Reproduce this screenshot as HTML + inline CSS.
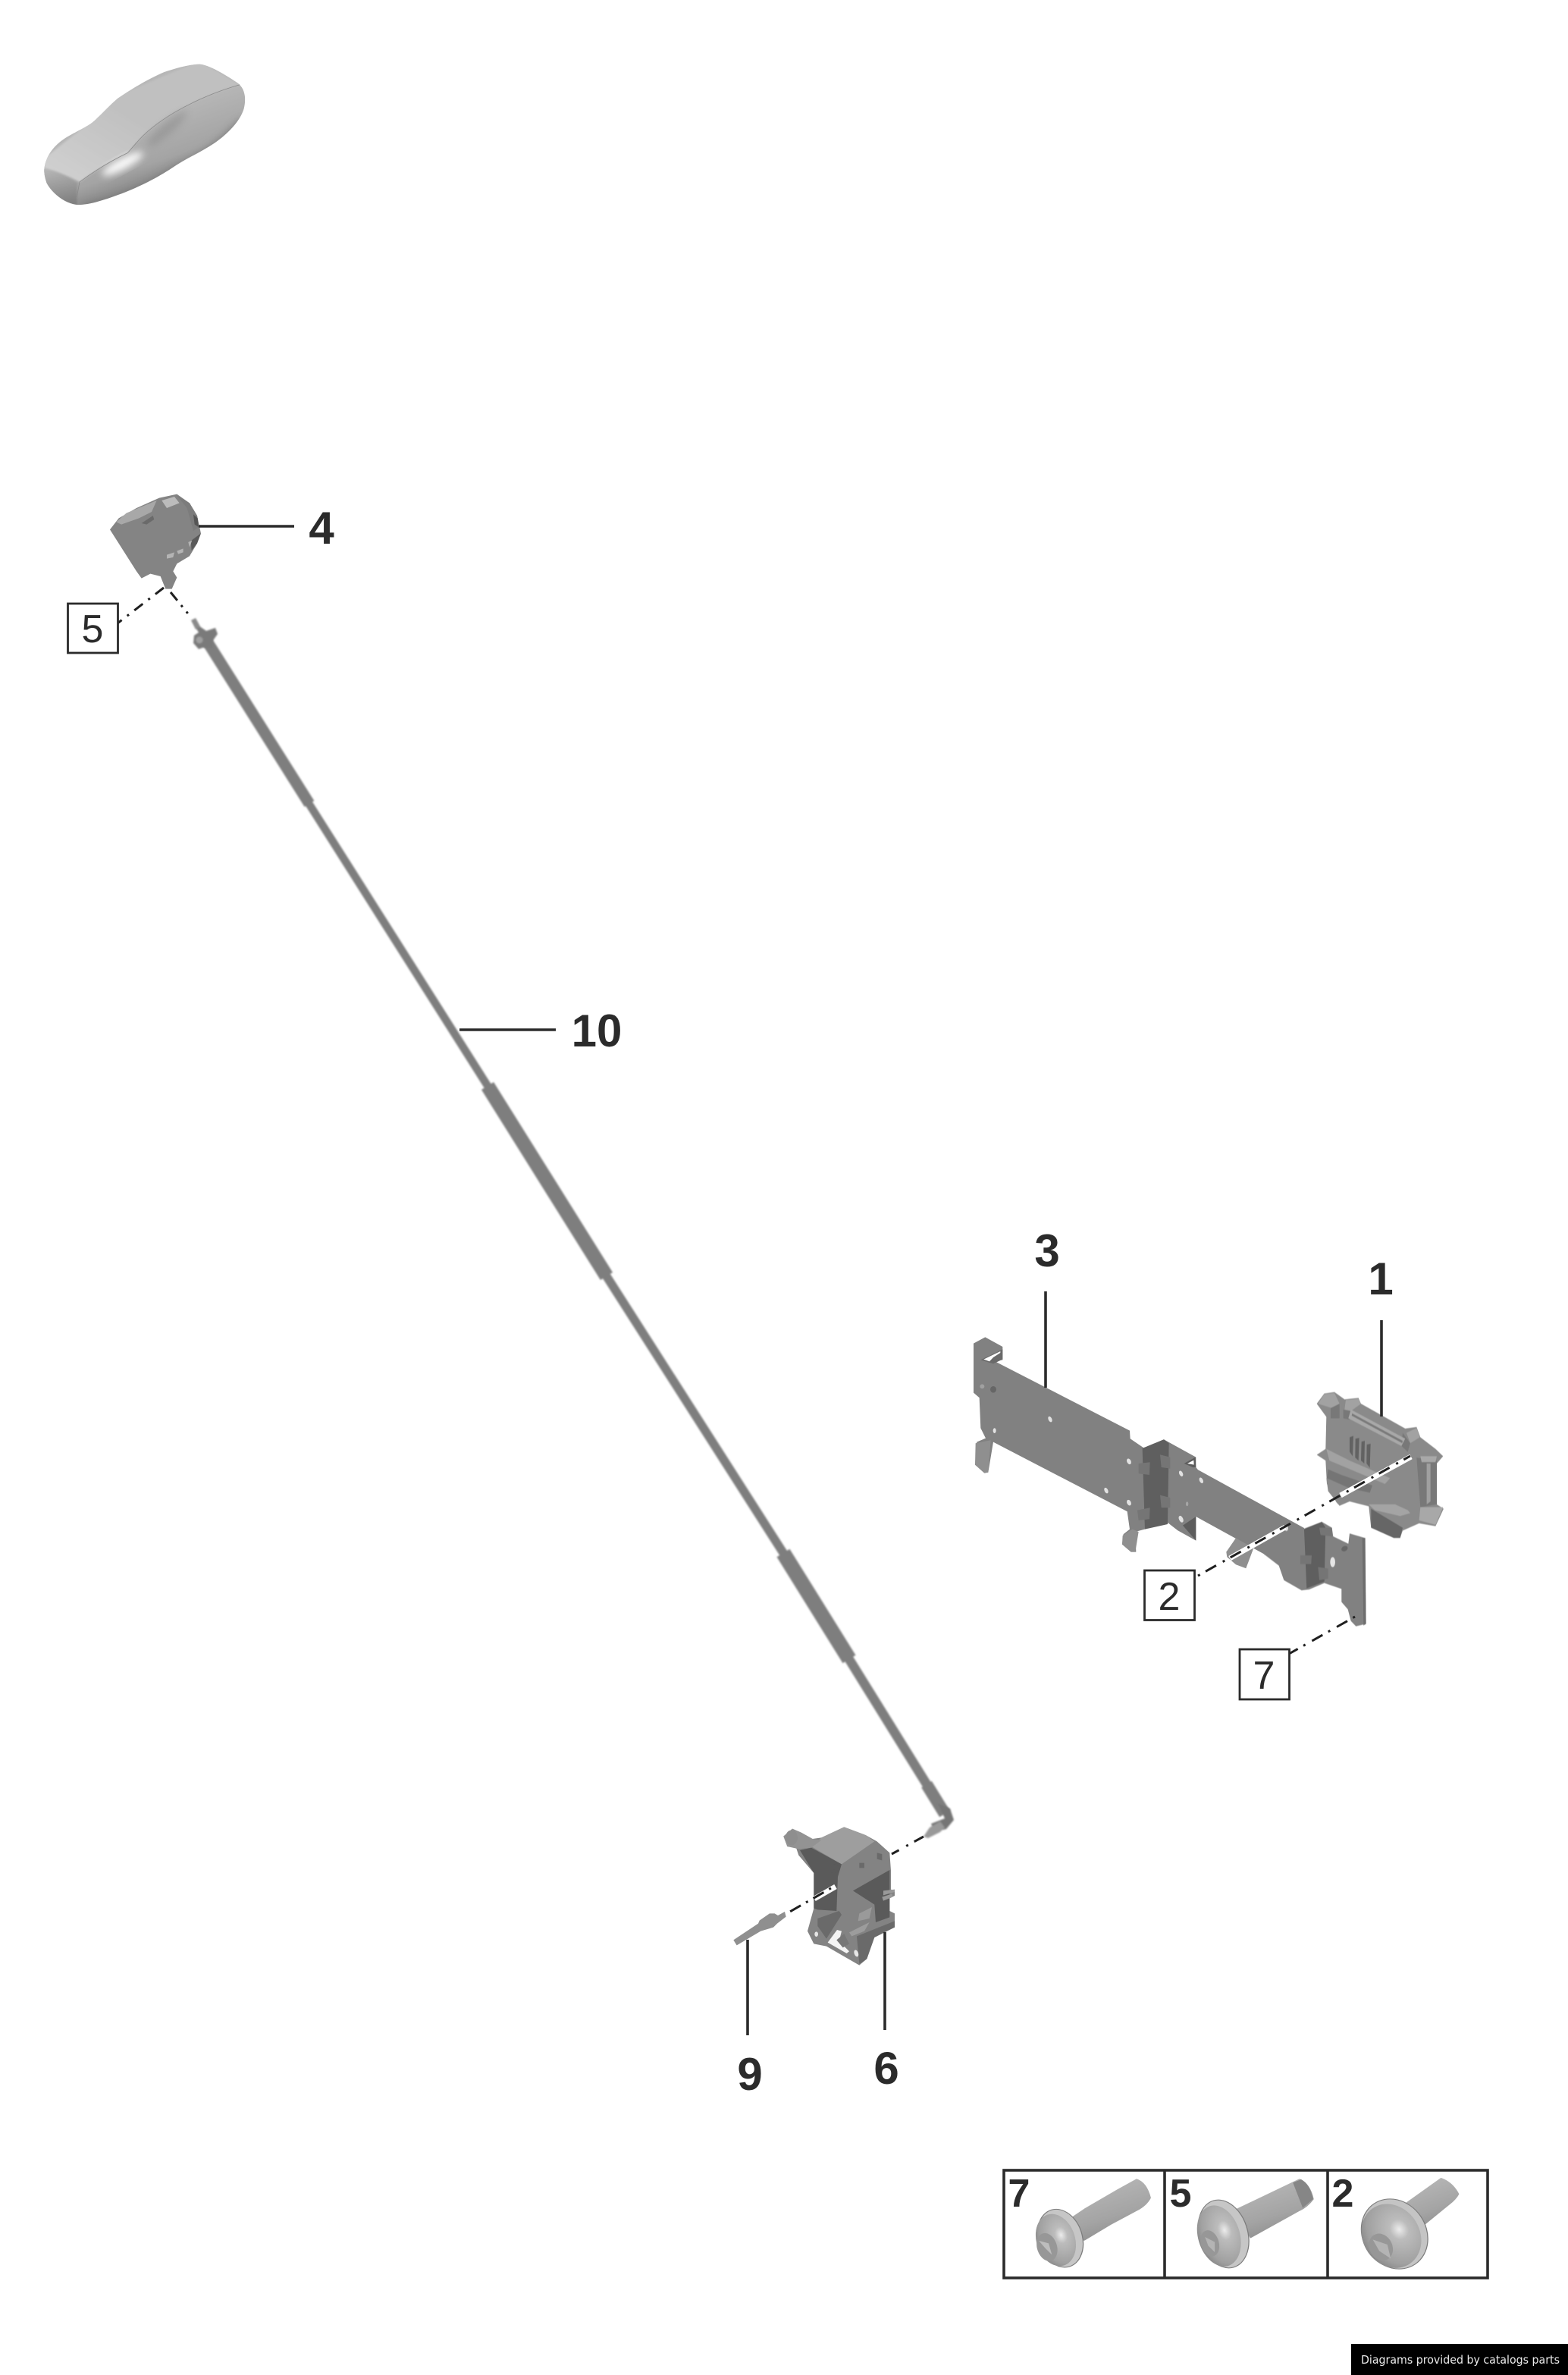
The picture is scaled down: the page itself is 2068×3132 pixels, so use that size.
<!DOCTYPE html>
<html><head><meta charset="utf-8"><title>Diagram</title>
<style>html,body{margin:0;padding:0;background:#fff}svg{display:block}
text{font-family:"Liberation Sans",sans-serif;fill:#2b2b2b}
.n{font-weight:bold;font-size:60px;text-anchor:middle}
.b{font-size:52px;text-anchor:middle}
.s{font-weight:bold;font-size:52px;text-anchor:middle}
.l{stroke:#2b2b2b;stroke-width:3.6;fill:none}
.d{stroke:#1f1f1f;stroke-width:3;fill:none;stroke-dasharray:3 8.5 16 10}
.h{stroke:#fff;stroke-width:7;fill:none}
.box{fill:#fff;stroke:#2b2b2b;stroke-width:2.8}
</style></head><body>
<svg width="2068" height="3132" viewBox="0 0 2068 3132" xmlns="http://www.w3.org/2000/svg">
<defs>
<filter id="bl" x="-10%" y="-10%" width="120%" height="120%"><feGaussianBlur stdDeviation="1.1"/></filter>
<filter id="bs" x="-20%" y="-20%" width="140%" height="140%"><feGaussianBlur stdDeviation="4"/></filter>
<filter id="bl3" x="-40%" y="-40%" width="180%" height="180%"><feGaussianBlur stdDeviation="14"/></filter>
<clipPath id="carc"><path d="M85,490 C90,440 120,400 160,372 C200,345 250,325 275,305 C305,280 340,240 375,210 C420,180 480,140 560,105 C610,88 660,75 700,74 C740,78 800,115 850,148 C880,170 885,210 875,250 C860,300 810,350 760,385 C700,425 640,450 590,485 C530,525 450,565 380,590 C320,612 260,632 215,630 C170,625 120,590 95,545 C88,525 84,505 85,490 Z"/></clipPath>
<linearGradient id="cs" x1="0.42" y1="0.42" x2="0.64" y2="0.88"><stop offset="0" stop-color="#b6b6b6"/><stop offset="0.55" stop-color="#a4a4a4"/><stop offset="1" stop-color="#707070"/></linearGradient>
<linearGradient id="ct" x1="0" y1="1" x2="1" y2="0"><stop offset="0" stop-color="#d2d2d2"/><stop offset="0.5" stop-color="#c0c0c0"/><stop offset="1" stop-color="#c0c0c0"/></linearGradient>
<linearGradient id="cf" x1="0" y1="0" x2="0.2" y2="1"><stop offset="0" stop-color="#bcbcbc"/><stop offset="1" stop-color="#808080"/></linearGradient>
<linearGradient id="sh" x1="0.3" y1="0" x2="0.7" y2="1"><stop offset="0" stop-color="#b8b8b8"/><stop offset="0.6" stop-color="#a4a4a4"/><stop offset="1" stop-color="#8a8a8a"/></linearGradient>
<radialGradient id="hd" cx="0.66" cy="0.42" r="0.72"><stop offset="0" stop-color="#ececec"/><stop offset="0.22" stop-color="#bcbcbc"/><stop offset="0.75" stop-color="#a0a0a0"/><stop offset="1" stop-color="#828282"/></radialGradient>
</defs>
<rect width="2068" height="3132" fill="#fff"/>

<!-- car -->
<g transform="translate(30,60) scale(.3333)">
<g clip-path="url(#carc)">
<rect x="60" y="50" width="850" height="610" fill="url(#cs)"/>
<path fill="url(#cf)" filter="url(#bs)" d="M70,480 Q150,500 216,545 L214,640 L80,640 Z"/>
<path fill="url(#ct)" filter="url(#bs)" d="M80,450 L270,300 L370,200 L700,60 L860,155 Q720,195 600,265 Q500,325 450,385 L415,425 Q320,470 225,540 Q150,500 85,485 Z"/>
<path fill="#8e8e8e" opacity=".6" filter="url(#bl3)" d="M490,385 Q550,300 650,255 Q640,320 510,400 Z"/>
<path fill="#767676" opacity=".8" filter="url(#bl3)" d="M230,630 Q420,600 600,480 Q740,420 860,290 L900,320 L700,520 L300,680 Z"/>
<ellipse cx="395" cy="468" rx="90" ry="22" transform="rotate(-28 395 468)" fill="#fafafa" filter="url(#bl3)"/>
<path fill="none" stroke="#8a8a8a" stroke-width="2.4" d="M860,155 Q720,195 600,265 Q500,325 450,385 L415,425 Q320,470 225,540 L214,600"/>
</g>
</g>

<!-- part 4 -->
<g transform="translate(70,620) scale(.3333)" filter="url(#bl)">
<path fill="#848484" d="M225,235 L260,190 L330,150 L420,110 L490,95 L540,130 L570,180 L585,250 L570,290 L540,340 L490,370 L475,400 L490,425 L470,470 L445,470 L425,420 L385,410 L350,428 L330,400 Z"/>
<path fill="#a8a8a8" d="M250,205 L290,170 L410,120 L390,165 L340,190 L270,215Z"/>
<path fill="#bcbcbc" d="M430,120 L480,105 L500,130 L450,150Z"/>
<path fill="#7c7c7c" d="M490,100 L540,130 L570,180 L578,225 L555,240 L530,150Z"/>
<path fill="#5a5a5a" d="M545,280 L585,250 L570,290 L548,318Z"/>
<path fill="#555" d="M555,175 L572,190 L575,225 L560,215Z"/>
<path fill="#6a6a6a" d="M350,210 L395,180 L400,195 L370,215Z"/>
<path fill="#b4b4b4" d="M450,335 L480,325 L475,345 L450,350Z M490,320 L515,310 L515,325 L495,332Z M535,285 L550,278 L540,305Z"/>
</g>
<line class="l" x1="262" y1="694" x2="388" y2="694"/>
<text class="n" x="424" y="717">4</text>
<path class="d" style="stroke-dasharray:14 9 3 9" d="M216,775 L155,822"/>
<path class="d" style="stroke-dasharray:14 8 3 8 3 99" d="M225,781 L251,813"/>
<rect class="box" x="89.5" y="796" width="66" height="65"/>
<text class="b" x="122" y="847">5</text>

<!-- rod 10 -->
<g filter="url(#bl)" fill="none" stroke="#7e7e7e">
<line x1="272" y1="844" x2="408" y2="1060" stroke-width="15"/>
<line x1="405" y1="1056" x2="645" y2="1435" stroke-width="10.5"/>
<line x1="643" y1="1432" x2="800" y2="1683" stroke-width="19"/>
<line x1="798" y1="1680" x2="1035" y2="2051" stroke-width="11.5"/>
<line x1="1033" y1="2048" x2="1120" y2="2188" stroke-width="20"/>
<line x1="1118" y1="2185" x2="1224" y2="2356" stroke-width="12.5"/>
<line x1="1222" y1="2353" x2="1246" y2="2392" stroke-width="16"/>
</g>
<g filter="url(#bl)">
<path fill="#7a7a7a" d="M253,820 L262,825 L272,832 L284,828 L287,836 L280,846 L280,855 L268,854 L262,856 L255,848 L256,838 L262,834Z"/>
<circle cx="263" cy="844" r="4.5" fill="#a0a0a0"/>
<path fill="#8a8a8a" d="M252,818 L258,815 L264,826 L258,830Z"/>
<path fill="#757575" d="M1237,2378 L1253,2385 L1258,2400 L1248,2412 L1232,2416 L1228,2405 L1246,2398Z"/>
<path fill="#999" d="M1218,2422 L1226,2410 L1240,2402 L1246,2410 L1240,2416 L1224,2424Z"/>
</g>
<line class="l" x1="606" y1="1358" x2="733" y2="1358"/>
<text class="n" x="787" y="1380">10</text>

<!-- bracket 3 -->
<g transform="translate(1260,1620) scale(.3333)" filter="url(#bl)">
<path fill="#818181" d="M72,455 L118,430 L187,468 L187,520 L155,525 L690,800 L692,832 L745,868 L825,835 L952,905 L952,945 L960,955 L1380,1185 L1380,1400 L1270,1315 L952,1140 L952,1235 L880,1195 L835,1160 L750,1190 L712,1200 L715,1280 L695,1280 L660,1250 L665,1210 L690,1190 L680,1120 L150,845 L130,965 L115,968 L78,935 L85,845 L120,830 L100,790 L95,670 L72,650 Z"/>
<path fill="#6a6a6a" d="M100,520 L187,478 L187,518 L150,535Z"/>
<path fill="#fff" d="M112,518 L178,486 L178,492 L150,510 L135,526Z"/>
<path fill="#8f8f8f" d="M80,850 L140,838 L130,965 L115,968 L78,935Z"/>
<path fill="#5e5e5e" d="M740,870 L825,835 L845,850 L840,1170 L750,1190Z"/>
<path fill="#747474" d="M725,930 L770,925 L768,975 L725,970Z M720,1115 L770,1105 L768,1150 L725,1155Z M810,895 L850,905 L850,950 L815,945Z M810,1055 L850,1065 L850,1105 L815,1105Z"/>
<path fill="#5c5c5c" d="M905,930 L950,905 L952,945 L940,945Z M900,1175 L952,1140 L952,1235Z"/>
<path fill="#fff" d="M918,930 L943,917 L944,935Z"/>
<path fill="#8f8f8f" d="M662,1215 L700,1190 L725,1200 L712,1280 L695,1280 L660,1250Z"/>
<path fill="#8f8f8f" d="M1072,1280 L1110,1225 L1180,1265 L1150,1345 L1110,1330 L1075,1300Z"/>
<g fill="#e2e2e2">
<ellipse cx="375" cy="755" rx="7" ry="12" transform="rotate(-25 375 755)"/>
<ellipse cx="155" cy="800" rx="6" ry="10"/>
<ellipse cx="687" cy="922" rx="8" ry="12" transform="rotate(-25 687 922)"/>
<ellipse cx="597" cy="1037" rx="7" ry="12" transform="rotate(-25 597 1037)"/>
<ellipse cx="687" cy="1085" rx="8" ry="12" transform="rotate(-25 687 1085)"/>
<ellipse cx="893" cy="970" rx="7" ry="12" transform="rotate(-25 893 970)"/>
<ellipse cx="973" cy="997" rx="7" ry="12" transform="rotate(-25 973 997)"/>
<ellipse cx="893" cy="1150" rx="8" ry="14" transform="rotate(-25 893 1150)"/>
<ellipse cx="917" cy="1090" rx="5" ry="9" fill="#a5a5a5"/>
</g>
<ellipse cx="150" cy="637" rx="12" ry="13" fill="#666"/>
<ellipse cx="106" cy="625" rx="9" ry="9" fill="#a0a0a0"/>
</g>
<g transform="translate(1480,1680) scale(.3333,.3846)" filter="url(#bl)">
<path fill="#818181" d="M600,840 L715,875 L790,850 L830,870 L835,900 L895,925 L900,890 L960,905 L965,1200 L925,1208 L905,1190 L893,1150 L868,1125 L868,1080 L800,1060 L740,1082 L710,1085 L640,1050 L620,1000 L560,960Z"/>
<path fill="#5e5e5e" d="M720,875 L790,850 L805,870 L800,1055 L730,1078Z"/>
<path fill="#747474" d="M705,965 L750,965 L748,995 L705,995Z M780,870 L830,870 L830,900 L785,895Z M775,1005 L815,1010 L815,1045 L780,1050Z"/>
<path fill="#6d6d6d" d="M950,905 L962,905 L965,1200 L955,1205Z"/>
<ellipse cx="833" cy="988" rx="10" ry="17" fill="#e6e6e6"/>
<ellipse cx="880" cy="942" rx="13" ry="9" fill="#666" transform="rotate(-20 880 942)"/>
<ellipse cx="650" cy="872" rx="7" ry="9" fill="#dedede"/>
</g>
<line class="l" x1="1379" y1="1703" x2="1379" y2="1830"/>
<text class="n" x="1381" y="1670">3</text>

<!-- part 1 -->
<g transform="translate(1480,1680) scale(.3333,.3846)" filter="url(#bl)">
<path fill="#8a8a8a" d="M770,445 L800,410 L840,405 L880,430 L935,425 L945,445 L1120,530 L1165,525 L1180,560 L1240,600 L1270,625 L1245,650 L1245,790 L1272,805 L1240,865 L1175,855 L1110,880 L1100,905 L1075,905 L985,870 L975,790 L900,760 L860,790 L810,720 L805,640 L770,620 L805,600 L808,490 Z"/>
<path fill="#8a8a8a" d="M808,700 L975,755 L990,800 L900,780 L860,795 L815,745Z"/>
<path fill="#a2a2a2" d="M775,445 L800,412 L840,408 L860,445 L830,460Z M885,432 L935,428 L945,445 L905,470 L880,465Z M1125,545 L1165,528 L1178,560 L1140,580Z"/>
<path fill="#787878" d="M825,460 L860,445 L860,495 L825,495Z M875,465 L905,470 L900,500 L875,495Z M1110,545 L1140,580 L1130,610 L1105,590Z"/>
<path fill="#a8a8a8" d="M905,465 L1120,565 L1105,590 L895,495Z"/>
<path fill="#7a7a7a" d="M910,478 L1110,572 L1108,580 L908,486Z"/>
<g fill="#626262"><path d="M900,560 L915,555 L912,625 L900,610Z M923,565 L938,562 L935,640 L922,630Z M947,575 L960,572 L958,650 L945,640Z M968,585 L983,582 L980,665 L967,650Z"/></g>
<path fill="#a2a2a2" d="M808,600 L900,640 L1060,700 L1040,720 L820,640Z"/>
<path fill="#757575" d="M815,670 L870,690 L990,725 L980,750 L900,735 L810,700Z"/>
<path fill="#787878" d="M1165,630 L1245,640 L1245,790 L1180,800Z"/>
<path fill="#a8a8a8" d="M1180,625 L1245,625 L1240,645 L1185,645Z M1180,800 L1270,800 L1240,860 L1175,845Z"/>
<path fill="#a0a0a0" d="M1205,650 L1220,650 L1220,780 L1205,790Z"/>
<path fill="#666" d="M985,805 L1110,870 L1100,905 L1075,905 L985,870Z"/>
<path fill="#a4a4a4" d="M975,790 L1080,790 L1130,810 L1140,820 L1100,830 L1000,810Z"/>
<path fill="#8a8a8a" d="M845,780 L870,770 L875,785 L855,790Z"/>
</g>
<line class="l" x1="1822" y1="1741" x2="1822" y2="1868"/>
<text class="n" x="1821" y="1707">1</text>

<!-- dash lines 2 & 7 -->
<line class="h" x1="1861" y1="1921" x2="1768" y2="1972"/>
<line class="h" x1="1695" y1="2014" x2="1622" y2="2055"/>
<path class="d" d="M1580,2078 L1860,1920"/>
<rect class="box" x="1509.5" y="2071" width="66" height="65.5"/>
<text class="b" x="1542" y="2123">2</text>
<path class="d" d="M1787,2132 L1700,2181"/>
<rect class="box" x="1635" y="2175" width="65.5" height="66"/>
<text class="b" x="1667" y="2227">7</text>

<!-- part 6 -->
<g transform="translate(950,2360) scale(.3333)" filter="url(#bl)">
<path fill="#838383" d="M250,185 L285,155 L320,170 L365,195 L400,190 L490,148 L575,180 L620,205 L670,250 L675,320 L675,395 L690,400 L690,420 L670,430 L670,480 L690,490 L690,545 L610,580 L580,670 L550,695 L420,620 L370,610 L345,560 L370,470 L370,330 L310,260 L300,230 L265,225 Z"/>
<path fill="#9e9e9e" d="M360,225 L400,190 L490,148 L575,180 L610,205 L480,295Z"/>
<path fill="#939393" d="M250,185 L285,155 L320,170 L365,195 L400,200 L360,230 L310,235 L265,225Z"/>
<path fill="#5a5a5a" d="M315,240 L360,230 L480,295 L465,345 L460,480 L385,475 L370,470 L370,330Z"/>
<path fill="#5a5a5a" d="M525,400 L670,318 L670,505 L615,525 L610,455Z"/>
<path fill="#6b6b6b" d="M540,580 L690,520 L690,545 L610,585 L580,670 L550,690Z"/>
<path fill="#6a6a6a" d="M385,510 L470,480 L480,495 L420,590 L385,540Z"/>
<path fill="#f4f4f4" d="M425,605 L462,555 L480,560 L470,600 L510,640 L500,648Z"/>
<path fill="#777" d="M460,595 L490,570 L510,610 L485,625Z"/>
<path fill="#9c9c9c" d="M510,565 L590,525 L570,560 L520,580Z"/>
<path fill="#9a9a9a" d="M550,490 L600,465 L590,510 L545,520Z"/>
<ellipse cx="380" cy="572" rx="7" ry="10" fill="#e6e6e6"/>
<ellipse cx="538" cy="648" rx="8" ry="14" fill="#e6e6e6" transform="rotate(-20 538 648)"/>
<path fill="#999" d="M645,400 L690,395 L690,405 L645,418Z M640,425 L680,412 L682,425 L645,440Z"/>
<path fill="#6a6a6a" d="M550,290 L570,290 L570,310 L550,310Z M620,250 L640,255 L640,280 L620,275Z"/>
<path fill="#5a5a5a" d="M435,300 L470,290 L465,300 L435,310Z M435,320 L475,310 L470,325 L435,330Z"/>
<ellipse cx="282" cy="190" rx="24" ry="30" fill="#8e8e8e"/>
<!-- part 9 -->
<path fill="#8f8f8f" d="M52,595 L150,530 L155,518 L195,490 L215,490 L228,498 L255,483 L260,503 L225,530 L210,545 L160,560 L65,616Z"/>
</g>
<line class="h" x1="1102" y1="2488" x2="1074" y2="2504"/>
<path class="d" style="stroke-dasharray:14 9 3 11" d="M1218,2422 L1176,2445"/>
<path class="d" style="stroke-dasharray:3 8 16 8" d="M1096,2490 L1040,2522"/>
<line class="l" x1="986" y1="2558" x2="986" y2="2684"/>
<line class="l" x1="1167" y1="2548" x2="1167" y2="2677"/>
<text class="n" x="989" y="2756">9</text>
<text class="n" x="1169" y="2748">6</text>

<!-- screws table -->
<rect x="1324" y="2862" width="638" height="142" fill="#fff" stroke="#2b2b2b" stroke-width="3.6"/>
<line class="l" x1="1536" y1="2862" x2="1536" y2="3004"/>
<line class="l" x1="1751" y1="2862" x2="1751" y2="3004"/>
<text class="s" x="1344" y="2910">7</text>
<text class="s" x="1557" y="2910">5</text>
<text class="s" x="1771" y="2910">2</text>
<g transform="translate(1310,2850) scale(.4296,.3333)">
<path fill="url(#sh)" stroke="url(#sh)" stroke-width="4" stroke-linejoin="round" d="M232,232 L280,190 L380,115 L440,72 Q470,85 482,145 Q470,175 440,195 L360,250 L280,312 L245,315Z"/>
<ellipse cx="206" cy="305" rx="68" ry="116" transform="rotate(-10 206 305)" fill="#c6c6c6" stroke="#7c7c7c" stroke-width="3"/>
<ellipse cx="192" cy="312" rx="60" ry="104" transform="rotate(-10 192 312)" fill="url(#hd)"/>
<ellipse cx="165" cy="340" rx="31" ry="56" transform="rotate(-10 165 340)" fill="#979797"/>
<path fill="#bdbdbd" d="M140,315 L170,325 L180,370 L160,345Z"/>
<path fill="url(#sh)" stroke="url(#sh)" stroke-width="4" stroke-linejoin="round" d="M745,192 L940,72 Q972,90 982,150 Q965,180 940,195 L790,302Z"/>
<path fill="#868686" d="M920,85 L945,72 Q972,90 982,150 L950,185Z"/>
<ellipse cx="707" cy="288" rx="75" ry="136" transform="rotate(-10 707 288)" fill="#c6c6c6" stroke="#7c7c7c" stroke-width="3"/>
<ellipse cx="693" cy="296" rx="65" ry="122" transform="rotate(-10 693 296)" fill="url(#hd)"/>
<ellipse cx="665" cy="325" rx="28" ry="52" transform="rotate(-10 665 325)" fill="#979797"/>
<path fill="#b4b4b4" d="M650,300 L680,320 L680,360 L660,335Z"/>
<path fill="url(#sh)" stroke="url(#sh)" stroke-width="4" stroke-linejoin="round" d="M1255,178 L1375,68 Q1410,85 1428,130 Q1420,150 1400,170 L1300,275Z"/>
<ellipse cx="1232" cy="288" rx="100" ry="140" transform="rotate(-12 1232 288)" fill="#c4c4c4" stroke="#7c7c7c" stroke-width="3"/>
<ellipse cx="1222" cy="296" rx="90" ry="128" transform="rotate(-12 1222 296)" fill="url(#hd)"/>
<ellipse cx="1190" cy="340" rx="36" ry="54" transform="rotate(-12 1190 340)" fill="#979797"/>
<path fill="#b4b4b4" d="M1165,310 L1210,330 L1220,385 L1185,355Z"/>
</g>

<!-- footer -->
<rect x="1782" y="3091" width="286" height="41" fill="#000"/>
<text x="1795" y="3117" style="font-family:'DejaVu Sans',sans-serif;font-size:15px;fill:#ececec" textLength="262" lengthAdjust="spacingAndGlyphs">Diagrams provided by catalogs parts</text>
</svg>
</body></html>
